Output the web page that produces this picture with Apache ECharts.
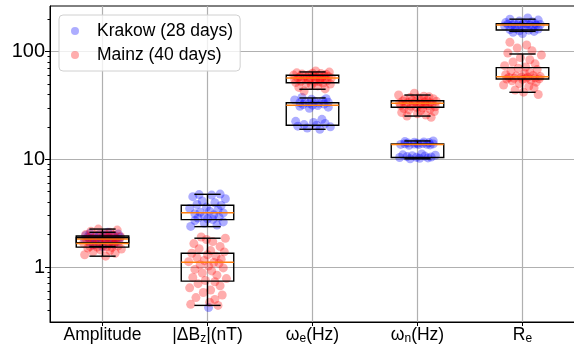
<!DOCTYPE html>
<html>
<head>
<meta charset="utf-8">
<script src="https://cdn.jsdelivr.net/npm/echarts@6/dist/echarts.min.js"></script>
<style>
  html, body { margin: 0; padding: 0; background: #fff; }
  #chart { width: 574px; height: 345px; }
</style>
</head>
<body>
<div id="chart"></div>
<script>
  // category positions 1..5 on the x axis
  const categories = [1, 2, 3, 4, 5]
  const categoryLabels = ['Amplitude', '|ΔB{sub|z}|(nT)', 'ω{sub|e}(Hz)', 'ω{sub|n}(Hz)', 'R{sub|e}']

  const yTicks = [1, 10, 100]
  const yMinorTicks = [0.4, 0.5, 0.6, 0.7, 0.8, 0.9, 2, 3, 4, 5, 6, 7, 8, 9, 20, 30, 40, 50, 60, 70, 80, 90, 200]

  // box stats: [min, q1, median, q3, max]
  const krakowBoxes = [
    [1.55, 1.68, 1.82, 1.94, 2.1],
    [2.37, 2.75, 3.19, 3.74, 4.73],
    [19.0, 20.7, 31.7, 33.5, 37.1],
    [10.1, 10.4, 13.7, 13.9, 14.8],
    [154, 158.6, 176.6, 181.6, 200]
  ]
  const mainzBoxes = [
    [1.26, 1.53, 1.65, 1.88, 2.25],
    [0.44, 0.74, 1.105, 1.34, 1.85],
    [44.7, 51.4, 56.9, 60.3, 64.7],
    [25.2, 30.4, 33.1, 35.0, 39.5],
    [41.9, 55.7, 58.4, 70.9, 95]
  ]

  // Krakow, 28 days
  const krakowAmplitude = [2.1, 2.05, 2.02, 2.0, 1.98, 1.96, 1.95, 1.94, 1.93, 1.92, 1.9, 1.89, 1.87, 1.85, 1.84, 1.83, 1.81, 1.8, 1.78, 1.76, 1.74, 1.72, 1.7, 1.68, 1.66, 1.63, 1.6, 1.55]
  const krakowDeltaB = [4.75, 4.7, 4.65, 4.5, 4.3, 4.1, 3.95, 3.8, 3.72, 3.6, 3.5, 3.4, 3.3, 3.22, 3.18, 3.12, 3.05, 2.98, 2.9, 2.85, 2.8, 2.76, 2.7, 2.62, 2.55, 2.45, 2.38, 0.42]
  const krakowOmegaE = [37.5, 36.5, 36, 35.5, 35, 34.5, 34, 33.8, 33.5, 33.2, 33, 32.6, 32.2, 31.8, 31.5, 31, 30.5, 29.8, 23.5, 22.5, 22, 21.5, 21, 20.7, 20.3, 20, 19.5, 19]
  const krakowOmegaN = [14.8, 14.6, 14.5, 14.4, 14.3, 14.2, 14.1, 14.0, 13.95, 13.9, 13.85, 13.8, 13.75, 13.7, 13.6, 13.5, 11.2, 11.0, 10.9, 10.8, 10.7, 10.6, 10.5, 10.45, 10.4, 10.3, 10.2, 10.1]
  const krakowRe = [205, 200, 196, 192, 189, 186, 184, 182, 181, 180, 179, 178, 177.5, 177, 176.5, 176, 175, 173, 170, 167, 164, 162, 160, 158, 156, 154, 151, 147]

  // Mainz, 40 days
  const mainzAmplitude = [2.25, 2.2, 2.15, 2.1, 2.05, 2.0, 1.97, 1.94, 1.92, 1.9, 1.89, 1.87, 1.85, 1.83, 1.81, 1.79, 1.77, 1.75, 1.73, 1.72, 1.71, 1.69, 1.67, 1.65, 1.63, 1.61, 1.59, 1.57, 1.55, 1.54, 1.53, 1.52, 1.5, 1.47, 1.44, 1.42, 1.38, 1.34, 1.3, 1.26]
  const mainzDeltaB = [1.9, 1.85, 1.8, 1.72, 1.65, 1.55, 1.48, 1.42, 1.38, 1.34, 1.3, 1.26, 1.22, 1.18, 1.15, 1.12, 1.1, 1.08, 1.05, 1.02, 0.98, 0.95, 0.92, 0.88, 0.84, 0.8, 0.78, 0.75, 0.73, 0.7, 0.67, 0.64, 0.61, 0.58, 0.55, 0.52, 0.5, 0.47, 0.45, 0.44]
  const mainzOmegaE = [66, 64.5, 63.5, 63, 62.5, 62, 61.5, 61, 60.5, 60.2, 60, 59.5, 59, 58.7, 58.3, 58, 57.6, 57.3, 57, 56.8, 56.5, 56.2, 55.8, 55.4, 55, 54.5, 54, 53.5, 53, 52.5, 52, 51.5, 51, 50.5, 50, 49, 48, 46.5, 45, 43]
  const mainzOmegaN = [41, 39.5, 38.5, 38, 37.5, 37, 36.5, 36, 35.7, 35.4, 35.1, 34.8, 34.5, 34.2, 34, 33.7, 33.5, 33.3, 33.1, 33, 32.8, 32.5, 32.2, 32, 31.7, 31.4, 31, 30.7, 30.4, 30, 29.6, 29.2, 28.8, 28.3, 27.8, 27.2, 26.5, 25.8, 25.2, 24.5]
  const mainzRe = [122, 115, 108, 102, 97, 93, 88, 84, 80, 77, 74, 72, 70, 68, 66, 64, 62.5, 61, 60, 59.2, 58.6, 58.2, 57.8, 57.4, 57, 56.6, 56.2, 55.9, 55.6, 55.2, 54.5, 53.5, 52, 50.5, 49, 47.5, 46, 44, 42, 40]

  // horizontal jitter of the dots (in category units)
  const jitterKrakow = [0.05, -0.12, 0.15, -0.03, 0.09, -0.16, 0.01, 0.12, -0.08, 0.04, -0.14, 0.17, -0.05, 0.07, -0.1, 0.13, -0.01, -0.17, 0.1, 0.02, -0.07, 0.15, -0.12, 0.06, -0.03, 0.11, -0.09, 0.0]
  const jitterMainz = [-0.04, 0.14, -0.11, 0.07, 0.02, -0.16, 0.1, -0.06, 0.17, -0.01, 0.05, -0.13, 0.12, -0.08, 0.03, 0.16, -0.15, 0.0, 0.08, -0.1, 0.13, -0.03, -0.18, 0.06, 0.11, -0.07, 0.01, 0.15, -0.12, 0.04, -0.05, 0.09, -0.14, 0.18, -0.02, 0.07, -0.09, 0.12, -0.17, 0.03]

  const krakowValues = [krakowAmplitude, krakowDeltaB, krakowOmegaE, krakowOmegaN, krakowRe]
  const mainzValues = [mainzAmplitude, mainzDeltaB, mainzOmegaE, mainzOmegaN, mainzRe]

  const yMin = 0.3085
  const yMax = 265
  const FONT = 'Liberation Sans'

  function toPoints(groups, jitter) {
    const out = []
    groups.forEach((vals, c) => {
      vals.forEach((v, i) => {
        out.push([categories[c] + jitter[(i + c * 7) % jitter.length], v])
      })
    })
    return out
  }

  function toBoxData(boxes) {
    return boxes.map((b, c) => [categories[c]].concat(b))
  }

  function renderBox(params, api) {
    const x = api.value(0)
    const lo = api.coord([x, api.value(1)])
    const q1 = api.coord([x, api.value(2)])
    const md = api.coord([x, api.value(3)])
    const q3 = api.coord([x, api.value(4)])
    const hi = api.coord([x, api.value(5)])
    const cx = lo[0]
    const bw = api.coord([x + 0.25, api.value(3)])[0] - api.coord([x - 0.25, api.value(3)])[0]
    const cw = bw / 2
    const line = (x1, y1, x2, y2, color) => ({
      type: 'line',
      shape: {x1: x1, y1: y1, x2: x2, y2: y2},
      style: {stroke: color, lineWidth: 1.4}
    })
    return {
      type: 'group',
      children: [
        {
          type: 'rect',
          shape: {x: cx - bw / 2, y: q3[1], width: bw, height: q1[1] - q3[1]},
          style: {fill: 'none', stroke: '#000', lineWidth: 1.4}
        },
        line(cx, q3[1], cx, hi[1], '#000'),
        line(cx, q1[1], cx, lo[1], '#000'),
        line(cx - cw / 2, hi[1], cx + cw / 2, hi[1], '#000'),
        line(cx - cw / 2, lo[1], cx + cw / 2, lo[1], '#000'),
        line(cx - bw / 2, md[1], cx + bw / 2, md[1], '#ff7f0e')
      ]
    }
  }

  const chart = echarts.init(document.getElementById('chart'), null, {renderer: 'canvas'})

  chart.setOption({
    animation: false,
    grid: {
      left: 50,
      right: -1,
      top: 6,
      bottom: 23,
      show: true,
      borderColor: '#000',
      borderWidth: 1,
      outerBoundsMode: 'none'
    },
    legend: {
      orient: 'vertical',
      left: 59,
      top: 15,
      padding: [7, 7, 7, 12],
      itemWidth: 34,
      itemHeight: 8,
      itemGap: 6,
      backgroundColor: 'rgba(255,255,255,0.8)',
      borderColor: '#d0d0d0',
      borderWidth: 1,
      borderRadius: 4,
      textStyle: {fontSize: 17.5, lineHeight: 18, fontFamily: FONT, color: '#000'},
      data: [
        {name: 'Krakow (28 days)', icon: 'circle'},
        {name: 'Mainz (40 days)', icon: 'circle'}
      ]
    },
    xAxis: {
      type: 'value',
      min: 0.5,
      max: 5.5,
      axisLine: {show: true, onZero: false, lineStyle: {color: '#000', width: 1}},
      axisTick: {show: true, length: 4, customValues: categories, lineStyle: {color: '#000'}},
      axisLabel: {
        customValues: categories,
        margin: 3,
        color: '#000',
        fontFamily: FONT,
        fontSize: 17.5,
        lineHeight: 20,
        formatter: v => categoryLabels[Math.round(v) - 1] || '',
        rich: {
          sub: {fontSize: 12, lineHeight: 12, fontFamily: FONT, color: '#000', padding: [8, 0, 0, 0]}
        }
      },
      splitLine: {show: true, lineStyle: {color: '#b0b0b0', width: 1.2}}
    },
    yAxis: [{
      type: 'log',
      logBase: 10,
      min: yMin,
      max: yMax,
      axisLine: {show: true, lineStyle: {color: '#000', width: 1}},
      axisTick: {show: true, length: 5, customValues: yTicks, lineStyle: {color: '#000'}},
      axisLabel: {customValues: yTicks, margin: 5, color: '#000', fontFamily: FONT, fontSize: 20},
      splitLine: {show: true, lineStyle: {color: '#b0b0b0', width: 1.2}}
    }, {
      type: 'log',
      logBase: 10,
      position: 'left',
      min: yMin,
      max: yMax,
      axisLine: {show: false},
      axisTick: {show: true, length: 2.5, customValues: yMinorTicks, lineStyle: {color: '#000'}},
      axisLabel: {show: false},
      splitLine: {show: false}
    }],
    series: [
      {
        name: 'Krakow (28 days)',
        type: 'scatter',
        symbolSize: 9,
        itemStyle: {color: 'rgba(0,0,255,0.4)'},
        z: 1,
        data: toPoints(krakowValues, jitterKrakow)
      },
      {
        name: 'Mainz (40 days)',
        type: 'scatter',
        symbolSize: 9,
        itemStyle: {color: 'rgba(255,0,0,0.4)'},
        z: 1,
        data: toPoints(mainzValues, jitterMainz)
      },
      {
        name: 'krakowBox',
        type: 'custom',
        renderItem: renderBox,
        z: 3,
        clip: false,
        data: toBoxData(krakowBoxes)
      },
      {
        name: 'mainzBox',
        type: 'custom',
        renderItem: renderBox,
        z: 3,
        clip: false,
        data: toBoxData(mainzBoxes)
      }
    ]
  })
</script>
</body>
</html>
